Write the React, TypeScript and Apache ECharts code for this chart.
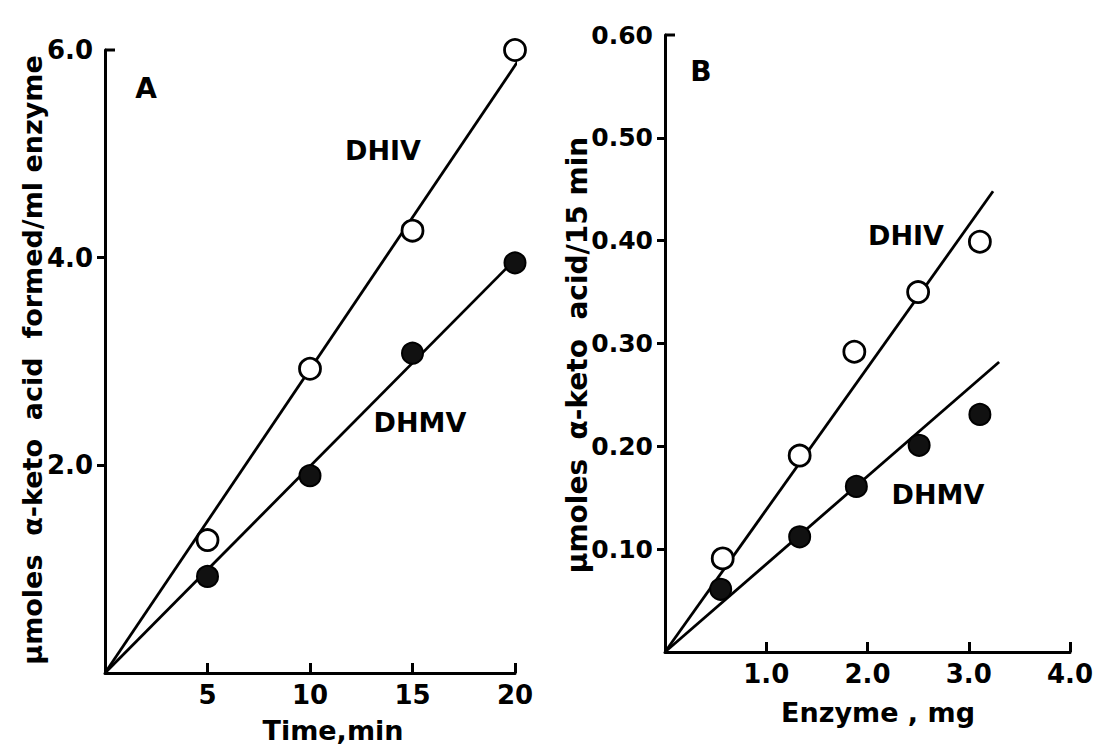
import React, { useEffect, useRef } from "react";
import * as echarts from "echarts";

// Panel A: time course
const TIME_MIN = [5, 10, 15, 20];
const A_DHIV = [1.28, 2.93, 4.26, 6.0];
const A_DHMV = [0.93, 1.9, 3.08, 3.95];
const A_DHIV_FIT = [[0, 0], [21.4, 6.26]];
const A_DHMV_FIT = [[0, 0], [21.6, 4.3]];
const A_X_TICKS = [5, 10, 15, 20];
const A_Y_LABELS = [2, 4, 6];
const A_Y_TICKS = [2, 4];

// Panel B: enzyme amount
const B_DHIV_MG = [0.57, 1.33, 1.87, 2.5, 3.11];
const B_DHIV = [0.091, 0.191, 0.292, 0.35, 0.399];
const B_DHMV_MG = [0.55, 1.33, 1.89, 2.51, 3.11];
const B_DHMV = [0.061, 0.112, 0.161, 0.201, 0.231];
const B_DHIV_FIT = [[0, 0], [3.24, 0.448]];
const B_DHMV_FIT = [[0, 0], [3.3, 0.282]];
const B_X_TICKS = [1, 2, 3, 4];
const B_Y_LABELS = [0.1, 0.2, 0.3, 0.4, 0.5, 0.6];
const B_Y_TICKS = [0.1, 0.2, 0.3, 0.4, 0.5];

const FONT = '"DejaVu Sans", "Liberation Sans", sans-serif';
const INK = "#000";

const GA = { left: 105, top: 50, width: 410, height: 623 };
const GB = { left: 665, top: 35, width: 405, height: 617 };

function zip(xs: number[], ys: number[]) {
  return xs.map((x, i) => [x, ys[i]]);
}

function xAxisCfg(gridIndex: number, max: number, interval: number, ticks: number[], fmt: (v: number) => string) {
  return {
    type: "value",
    gridIndex,
    min: 0,
    max,
    interval,
    axisLine: { show: true, lineStyle: { color: INK, width: 3 } },
    axisTick: { show: true, inside: true, length: 10, customValues: ticks, lineStyle: { color: INK, width: 3 } },
    axisLabel: {
      show: true,
      customValues: ticks,
      formatter: fmt,
      color: INK,
      fontFamily: FONT,
      fontWeight: "bold",
      fontSize: 26,
      margin: 9,
    },
    splitLine: { show: false },
  };
}

function yAxisCfg(gridIndex: number, max: number, interval: number, labels: number[], ticks: number[], fmt: (v: number) => string, fs: number) {
  return {
    type: "value",
    gridIndex,
    min: 0,
    max,
    interval,
    axisLine: { show: true, lineStyle: { color: INK, width: 3 } },
    axisTick: { show: true, inside: false, length: 8, customValues: ticks, lineStyle: { color: INK, width: 3 } },
    axisLabel: {
      show: true,
      customValues: labels,
      formatter: fmt,
      color: INK,
      fontFamily: FONT,
      fontWeight: "bold",
      fontSize: fs,
      margin: 12,
    },
    splitLine: { show: false },
  };
}

function fitLine(name: string, idx: number, data: number[][]) {
  return {
    name,
    type: "line",
    xAxisIndex: idx,
    yAxisIndex: idx,
    data,
    showSymbol: false,
    clip: false,
    z: 2,
    lineStyle: { color: INK, width: 2.8, opacity: 1 },
  };
}

function points(name: string, idx: number, data: number[][], filled: boolean) {
  return {
    name,
    type: "scatter",
    xAxisIndex: idx,
    yAxisIndex: idx,
    data,
    clip: false,
    symbol: "circle",
    symbolSize: 21,
    z: 3,
    itemStyle: filled
      ? { color: "#111", borderColor: INK, borderWidth: 2, opacity: 1 }
      : { color: "#fff", borderColor: INK, borderWidth: 2.8, opacity: 1 },
  };
}

function label(text: string, x: number, y: number, size: number, rotation = 0) {
  return {
    type: "text",
    x,
    y,
    rotation,
    z: 10,
    style: {
      text,
      fill: INK,
      font: `bold ${size}px ${FONT}`,
      textAlign: "center",
      textVerticalAlign: "middle",
    },
  };
}

export default function App() {
  const ref = useRef<HTMLDivElement>(null);

  useEffect(() => {
    if (!ref.current) return;
    const chart = echarts.init(ref.current, null, { renderer: "svg" });
    chart.setOption({
      animation: false,
      backgroundColor: "#fff",
      grid: [
        { ...GA, containLabel: false },
        { ...GB, containLabel: false },
      ],
      xAxis: [
        xAxisCfg(0, 20, 5, A_X_TICKS, (v: number) => String(v)),
        xAxisCfg(1, 4, 1, B_X_TICKS, (v: number) => v.toFixed(1)),
      ],
      yAxis: [
        yAxisCfg(0, 6, 2, A_Y_LABELS, A_Y_TICKS, (v: number) => v.toFixed(1), 26),
        yAxisCfg(1, 0.6, 0.1, B_Y_LABELS, B_Y_TICKS, (v: number) => v.toFixed(2), 25),
      ],
      series: [
        fitLine("DHIV fit A", 0, A_DHIV_FIT),
        fitLine("DHMV fit A", 0, A_DHMV_FIT),
        points("DHIV A", 0, zip(TIME_MIN, A_DHIV), false),
        points("DHMV A", 0, zip(TIME_MIN, A_DHMV), true),
        fitLine("DHIV fit B", 1, B_DHIV_FIT),
        fitLine("DHMV fit B", 1, B_DHMV_FIT),
        points("DHIV B", 1, zip(B_DHIV_MG, B_DHIV), false),
        points("DHMV B", 1, zip(B_DHMV_MG, B_DHMV), true),
      ],
      graphic: [
        // top-of-axis ticks pointing inward
        { type: "line", shape: { x1: GA.left, y1: GA.top, x2: GA.left + 10, y2: GA.top }, style: { stroke: INK, lineWidth: 3 } },
        { type: "line", shape: { x1: GB.left, y1: GB.top, x2: GB.left + 10, y2: GB.top }, style: { stroke: INK, lineWidth: 3 } },
        label("A", 146, 88, 28),
        label("B", 701, 71, 28),
        label("DHIV", 383, 150, 27),
        label("DHMV", 420, 422, 27),
        label("DHIV", 906, 235, 27),
        label("DHMV", 938, 494, 27),
        label("Time,min", 333, 730, 27),
        label("Enzyme , mg", 878, 712, 27),
        label("μmoles  α-keto  acid  formed/ml enzyme", 32, 360, 27, Math.PI / 2),
        label("μmoles  α-keto  acid/15 min", 577, 355, 28, Math.PI / 2),
      ],
    });
    return () => chart.dispose();
  }, []);

  return (
    <div
      ref={ref}
      style={{ position: "fixed", left: 0, top: 0, width: 1109, height: 750, background: "#fff" }}
    />
  );
}
